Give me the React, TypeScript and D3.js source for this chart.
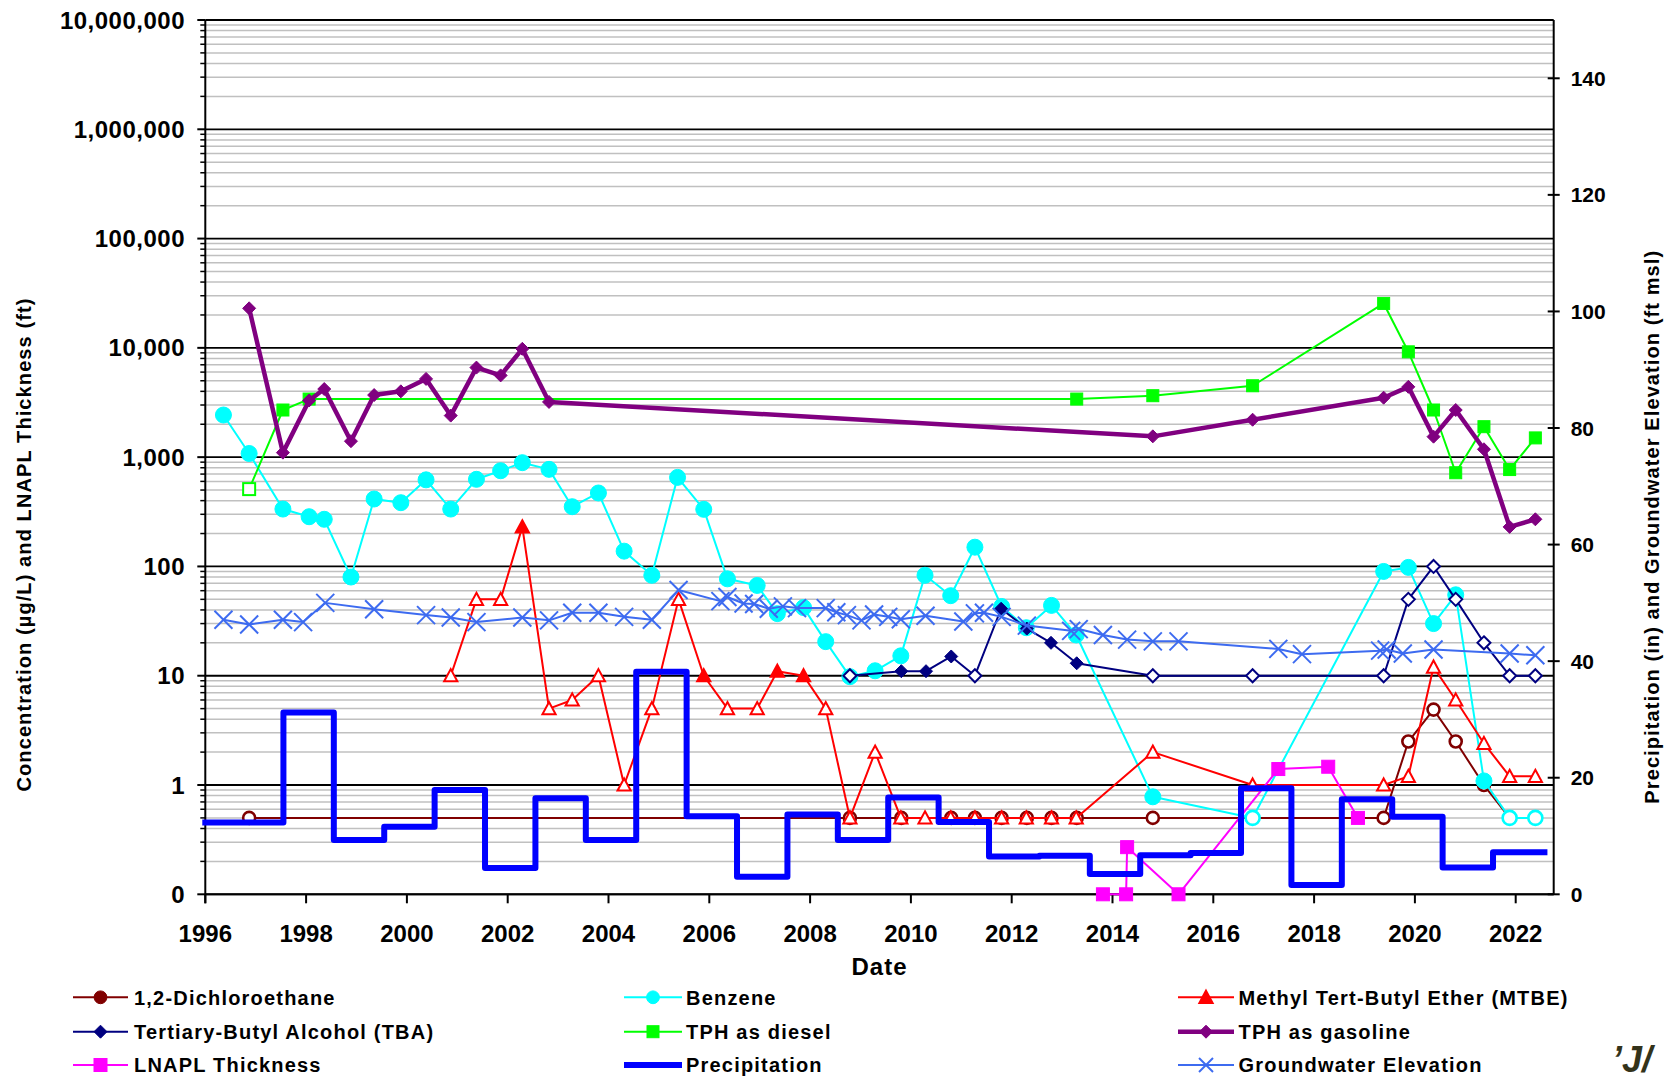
import React from "react";
import * as d3 from "d3";

type Pt = [number, number];

// sampling dates are decimal years
const yearTicks = d3.range(1996, 2023, 2);
const concTicks = [0.1, 1, 10, 100, 1000, 10000, 100000, 1000000, 10000000];
const elevTicks = [0, 20, 40, 60, 80, 100, 120, 140];

const dichloroethane: Pt[] = [
  [1996.87, 0.5], [2008.79, 0.5], [2009.81, 0.5], [2010.8, 0.5], [2011.27, 0.5], [2011.8, 0.5],
  [2012.3, 0.5], [2012.79, 0.5], [2013.29, 0.5], [2014.8, 0.5], [2016.78, 0.5], [2019.38, 0.5],
  [2019.87, 2.5], [2020.37, 4.9], [2020.81, 2.5], [2021.37, 1.0], [2021.88, 0.5], [2022.39, 0.5],
];

const benzene: Pt[] = [
  [1996.36, 2430], [1996.87, 1080], [1997.54, 335], [1998.06, 285], [1998.36, 270], [1998.89, 80],
  [1999.35, 414], [1999.88, 383], [2000.38, 620], [2000.87, 335], [2001.38, 627], [2001.86, 751],
  [2002.29, 890], [2002.82, 773], [2003.28, 352], [2003.8, 470], [2004.31, 138], [2004.86, 83],
  [2005.37, 653], [2005.89, 333], [2006.36, 77], [2006.95, 67], [2007.35, 37], [2007.87, 42],
  [2008.31, 20.5], [2008.79, 9.8], [2009.29, 11.1], [2009.8, 15.2], [2010.28, 83], [2010.79, 54],
  [2011.27, 150], [2011.8, 43], [2012.29, 27.5], [2012.79, 44], [2013.28, 23.6], [2014.8, 0.78],
  [2016.78, 0.5], [2019.38, 90], [2019.87, 98], [2020.37, 30], [2020.81, 55], [2021.37, 1.09],
  [2021.88, 0.5], [2022.39, 0.5],
];
const benzeneOpen = [2016.78, 2021.88, 2022.39];

const mtbe: Pt[] = [
  [2000.87, 10], [2001.38, 50], [2001.86, 50], [2002.29, 230], [2002.82, 5], [2003.28, 6],
  [2003.8, 10], [2004.31, 1], [2004.86, 5], [2005.39, 50], [2005.89, 10], [2006.36, 5],
  [2006.95, 5], [2007.35, 11], [2007.87, 10], [2008.31, 5], [2008.79, 0.5], [2009.29, 2],
  [2009.8, 0.5], [2010.28, 0.5], [2010.79, 0.5], [2011.27, 0.5], [2011.8, 0.5], [2012.29, 0.5],
  [2012.79, 0.5], [2013.28, 0.5], [2014.8, 2], [2016.78, 1], [2019.38, 1], [2019.87, 1.2],
  [2020.37, 12], [2020.81, 6], [2021.37, 2.4], [2021.88, 1.2], [2022.39, 1.2],
];
const mtbeFilled = [2002.29, 2005.89, 2007.35, 2007.87];

const tba: Pt[] = [
  [2008.79, 10], [2009.81, 11], [2010.3, 11], [2010.8, 15], [2011.27, 10], [2011.79, 41],
  [2012.3, 27], [2012.78, 20], [2013.29, 13], [2014.8, 10], [2016.78, 10], [2019.38, 10],
  [2019.87, 50], [2020.37, 100], [2020.81, 50], [2021.37, 20], [2021.88, 10], [2022.39, 10],
];
const tbaFilled = [2009.81, 2010.3, 2010.8, 2011.79, 2012.3, 2012.78, 2013.29];

const tphDiesel: Pt[] = [
  [1996.87, 510], [1997.54, 2700], [1998.06, 3400], [2013.29, 3400], [2014.8, 3650],
  [2016.78, 4500], [2019.38, 25500], [2019.87, 9200], [2020.37, 2700], [2020.81, 720],
  [2021.37, 1900], [2021.88, 770], [2022.39, 1500],
];
const dieselOpen = [1996.87];

const tphGasoline: Pt[] = [
  [1996.87, 23000], [1997.54, 1100], [1998.06, 3300], [1998.36, 4200], [1998.89, 1400],
  [1999.35, 3700], [1999.88, 4000], [2000.38, 5200], [2000.87, 2400], [2001.38, 6600],
  [2001.86, 5600], [2002.29, 9800], [2002.82, 3200], [2014.8, 1550], [2016.78, 2200],
  [2019.38, 3500], [2019.87, 4400], [2020.37, 1540], [2020.81, 2700], [2021.37, 1180],
  [2021.88, 230], [2022.39, 270],
];

const lnapl: Pt[] = [
  [2013.81, 0.1], [2014.27, 0.1], [2014.29, 0.27], [2015.31, 0.1], [2017.29, 1.4],
  [2018.28, 1.47], [2018.87, 0.5],
];

// water-year precipitation (in), start of each step
const precipitation: Pt[] = [
  [1996.0, 12.3], [1997.55, 31.2], [1998.55, 9.3], [1999.55, 11.6], [2000.55, 17.9],
  [2001.55, 4.5], [2002.55, 16.5], [2003.55, 9.3], [2004.55, 38.2], [2005.55, 13.4],
  [2006.55, 3.0], [2007.55, 13.7], [2008.55, 9.3], [2009.55, 16.6], [2010.55, 12.4],
  [2011.55, 6.5], [2012.55, 6.6], [2013.55, 3.5], [2014.55, 6.7], [2015.55, 7.1],
  [2016.55, 18.2], [2017.55, 1.6], [2018.55, 16.3], [2019.55, 13.3], [2020.55, 4.6],
  [2021.55, 7.2], [2022.57, 7.2],
];

const groundwater: Pt[] = [
  [1996.36, 47.1], [1996.87, 46.3], [1997.54, 47.1], [1997.94, 46.7], [1998.38, 50.0],
  [1999.35, 48.9], [2000.38, 47.9], [2000.87, 47.5], [2001.38, 46.7], [2002.29, 47.5],
  [2002.82, 47.0], [2003.28, 48.3], [2003.8, 48.3], [2004.31, 47.6], [2004.86, 47.1],
  [2005.39, 52.2], [2006.22, 50.3], [2006.36, 51.0], [2006.68, 49.9], [2006.89, 49.8],
  [2007.18, 49.0], [2007.46, 49.4], [2007.74, 49.1], [2008.31, 49.1], [2008.52, 48.4],
  [2008.73, 47.9], [2009.02, 47.0], [2009.27, 48.0], [2009.55, 47.6], [2009.8, 47.2],
  [2010.29, 47.8], [2011.04, 46.8], [2011.27, 48.2], [2011.45, 48.3], [2011.8, 47.6],
  [2012.3, 46.1], [2013.18, 45.2], [2013.33, 45.5], [2013.81, 44.5], [2014.29, 43.7],
  [2014.8, 43.4], [2015.31, 43.4], [2017.29, 42.1], [2017.76, 41.2], [2019.31, 41.8],
  [2019.44, 42.0], [2019.76, 41.3], [2020.37, 42.0], [2021.88, 41.3], [2022.39, 41.0],
];

const FONT = "'Liberation Sans', Arial, sans-serif";

type Shape = "circle" | "diamond" | "square" | "triangle" | "x" | "none";

function Marker({ shape, cx, cy, color, open, s }: { shape: Shape; cx: number; cy: number; color: string; open?: boolean; s: number }) {
  const fill = open ? "#fff" : color;
  if (shape === "circle") return <circle cx={cx} cy={cy} r={s} fill={fill} stroke={color} strokeWidth={open ? 2.6 : 1} />;
  if (shape === "diamond")
    return <path d={`M${cx},${cy - s}L${cx + s},${cy}L${cx},${cy + s}L${cx - s},${cy}Z`} fill={fill} stroke={color} strokeWidth={open ? 2 : 1} />;
  if (shape === "square")
    return <rect x={cx - s / 2} y={cy - s / 2} width={s} height={s} fill={fill} stroke={color} strokeWidth={open ? 2 : 1} />;
  if (shape === "triangle")
    return <path d={`M${cx},${cy - s}L${cx + s},${cy + s * 0.85}L${cx - s},${cy + s * 0.85}Z`} fill={fill} stroke={color} strokeWidth={2} />;
  if (shape === "x")
    return (
      <g stroke={color} strokeWidth={2}>
        <line x1={cx - s} y1={cy - s} x2={cx + s} y2={cy + s} />
        <line x1={cx - s} y1={cy + s} x2={cx + s} y2={cy - s} />
      </g>
    );
  return null;
}

export default function App() {
  const left = 205.3, right = 1553.7, top = 20, bottom = 894.3;
  const x = d3.scaleLinear().domain([1996, 2022.754]).range([left, right]);
  const yL = d3.scaleLog().domain([0.1, 1e7]).range([bottom, top]);
  const yR = d3.scaleLinear().domain([0, 150]).range([bottom, top]);

  const minors: number[] = [];
  concTicks.slice(0, -1).forEach((d) => d3.range(2, 10).forEach((k) => minors.push(d * k)));

  const lineL = d3.line<Pt>().x((d) => x(d[0])).y((d) => yL(d[1]));
  const lineR = d3.line<Pt>().x((d) => x(d[0])).y((d) => yR(d[1]));
  const stepR = d3.line<Pt>().x((d) => x(d[0])).y((d) => yR(d[1])).curve(d3.curveStepAfter);

  const series = [
    { name: "1,2-Dichloroethane", data: dichloroethane, color: "#800000", shape: "circle" as Shape, s: 6, w: 2, isOpen: () => true, axis: "L" },
    { name: "Benzene", data: benzene, color: "#00FFFF", shape: "circle" as Shape, s: 8, w: 2, isOpen: (t: number) => benzeneOpen.includes(t), axis: "L" },
    { name: "Methyl Tert-Butyl Ether (MTBE)", data: mtbe, color: "#FF0000", shape: "triangle" as Shape, s: 6.6, w: 2, isOpen: (t: number) => !mtbeFilled.includes(t), axis: "L" },
    { name: "Tertiary-Butyl Alcohol (TBA)", data: tba, color: "#000080", shape: "diamond" as Shape, s: 6.5, w: 2, isOpen: (t: number) => !tbaFilled.includes(t), axis: "L" },
    { name: "TPH as diesel", data: tphDiesel, color: "#00FF00", shape: "square" as Shape, s: 12, w: 2, isOpen: (t: number) => dieselOpen.includes(t), axis: "L" },
    { name: "TPH as gasoline", data: tphGasoline, color: "#800080", shape: "diamond" as Shape, s: 6.5, w: 4.5, isOpen: () => false, axis: "L" },
    { name: "LNAPL Thickness", data: lnapl, color: "#FF00FF", shape: "square" as Shape, s: 13, w: 2, isOpen: () => false, axis: "L" },
    { name: "Precipitation", data: precipitation, color: "#0000FF", shape: "none" as Shape, s: 0, w: 6, isOpen: () => false, axis: "P" },
    { name: "Groundwater Elevation", data: groundwater, color: "#3D6BF0", shape: "x" as Shape, s: 9, w: 2, isOpen: () => false, axis: "R" },
  ];

  const legendCols = [
    { x0: 73, x1: 128, tx: 134 },
    { x0: 624, x1: 682, tx: 686 },
    { x0: 1178, x1: 1234, tx: 1238.5 },
  ];
  const legendRows = [997.3, 1031.7, 1065];

  return (
    <div style={{ position: "absolute", left: 0, top: 0 }}>
      <svg width={1672} height={1078} style={{ display: "block", background: "#fff" }} fontFamily={FONT} fontWeight="bold">
        {/* minor gridlines */}
        {minors.map((v) => (
          <line key={"m" + v} x1={left} x2={right} y1={yL(v)} y2={yL(v)} stroke="#C0C0C0" strokeWidth={1.5} />
        ))}
        {concTicks.map((v) => (
          <line key={"g" + v} x1={left} x2={right} y1={yL(v)} y2={yL(v)} stroke="#000" strokeWidth={1.8} />
        ))}

        {/* left axis */}
        <line x1={left} x2={left} y1={top} y2={bottom + 9} stroke="#000" strokeWidth={2} />
        {minors.map((v) => (
          <line key={"mt" + v} x1={left - 5} x2={left} y1={yL(v)} y2={yL(v)} stroke="#000" strokeWidth={1.5} />
        ))}
        {concTicks.map((v) => (
          <g key={"lt" + v}>
            <line x1={left - 8} x2={left} y1={yL(v)} y2={yL(v)} stroke="#000" strokeWidth={2} />
            <text x={185} y={yL(v) + 8.6} textAnchor="end" fontSize={24} letterSpacing={0.5}>
              {d3.format(",.0f")(v)}
            </text>
          </g>
        ))}

        {/* right axis */}
        <line x1={right} x2={right} y1={top} y2={bottom} stroke="#000" strokeWidth={2} />
        {elevTicks.map((v) => (
          <g key={"rt" + v}>
            <line x1={right - 6} x2={right + 6} y1={yR(v)} y2={yR(v)} stroke="#000" strokeWidth={2} />
            <text x={1570.7} y={yR(v) + 7.5} fontSize={21}>
              {v}
            </text>
          </g>
        ))}

        {/* bottom axis */}
        <line x1={left} x2={right} y1={bottom} y2={bottom} stroke="#000" strokeWidth={2} />
        {yearTicks.map((t) => (
          <g key={"xt" + t}>
            <line x1={x(t)} x2={x(t)} y1={bottom} y2={bottom + 9} stroke="#000" strokeWidth={2} />
            <text x={x(t)} y={941.7} textAnchor="middle" fontSize={24}>
              {t}
            </text>
          </g>
        ))}

        {/* axis titles */}
        <text x={(left + right) / 2} y={975} textAnchor="middle" fontSize={24} letterSpacing={1}>
          Date
        </text>
        <text transform="translate(31,544.5) rotate(-90)" textAnchor="middle" fontSize={20} letterSpacing={1.1}>
          Concentration (µg/L) and LNAPL Thickness (ft)
        </text>
        <text transform="translate(1658.5,526.7) rotate(-90)" textAnchor="middle" fontSize={20} letterSpacing={1.1}>
          Precipitation (in) and Groundwater Elevation (ft msl)
        </text>

        {/* series */}
        {series.map((s) => {
          const gen = s.axis === "L" ? lineL : s.axis === "P" ? stepR : lineR;
          const yy = s.axis === "L" ? yL : yR;
          return (
            <g key={s.name}>
              <path d={gen(s.data) || ""} fill="none" stroke={s.color} strokeWidth={s.w} strokeLinejoin="round" strokeLinecap={s.axis === "P" ? "square" : "butt"} />
              {s.data.map((d, i) => (
                <Marker key={i} shape={s.shape} cx={x(d[0])} cy={yy(d[1])} color={s.color} open={s.isOpen(d[0])} s={s.shape === "circle" && s.isOpen(d[0]) && s.name === "Benzene" ? 7 : s.s} />
              ))}
            </g>
          );
        })}

        {/* legend */}
        {series.map((s, i) => {
          const c = legendCols[i % 3];
          const ry = legendRows[Math.floor(i / 3)];
          const cx = (c.x0 + c.x1) / 2;
          return (
            <g key={"lg" + s.name}>
              <line x1={c.x0} x2={c.x1} y1={ry} y2={ry} stroke={s.color} strokeWidth={s.w} />
              <Marker shape={s.shape} cx={cx} cy={ry} color={s.color} open={false} s={s.shape === "circle" ? 6.4 : s.shape === "x" ? 7 : s.s} />
              <text x={c.tx} y={ry + 7.2} fontSize={20} letterSpacing={1.2}>
                {s.name}
              </text>
            </g>
          );
        })}

        {/* logo fragment in the corner */}
        <text x={1612} y={1072} fontSize={36} fontStyle="italic" fill="#33331a">
          ’J/
        </text>
      </svg>
    </div>
  );
}
